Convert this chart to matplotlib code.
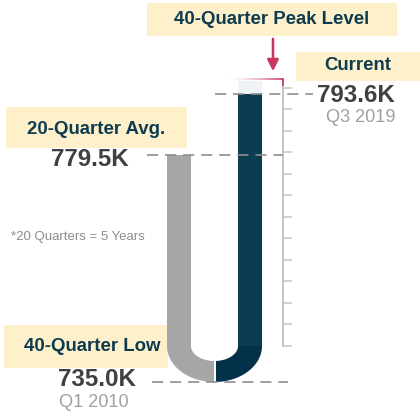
"""
U-shaped gauge: current level vs 20-quarter average and 40-quarter low/peak.
"""
import numpy as np
import matplotlib.pyplot as plt
from matplotlib.patches import Rectangle, Polygon
from matplotlib.collections import LineCollection

plt.rcParams['font.family'] = ['Liberation Sans', 'DejaVu Sans']
plt.rcParams['lines.scale_dashes'] = False

# values in thousands
avg_20q = 779.5
current = 793.6
low_40q = 735.0
peak_40q = 796.6
current_period = 'Q3 2019'
low_period = 'Q1 2010'
box_labels = ['40-Quarter Peak Level', 'Current', '20-Quarter Avg.', '40-Quarter Low']
note = '*20 Quarters = 5 Years'
tick_values = np.arange(735, 800, 5)

W, H = 420, 417
PX = 4.3                      # pixels per 1K
ytop = current + 94 / PX
ybot = ytop - H / PX

def vy(py):
    # pixel row -> value
    return ytop - py / PX

teal = '#0B3D50'
teal_dark = '#04314A'
gray_bar = '#A6A6A6'
pale = '#EEF3F6'
box_col = '#FEF0CA'
label_col = '#0E3B4E'
value_col = '#404040'
period_col = '#A0A0A0'
dash_col = '#8E8E8E'
pink = '#C8375E'

fig = plt.figure(figsize=(4.2, 4.17), dpi=100)
ax = fig.add_axes([0, 0, 1, 1])
ax.set_xlim(0, W)
ax.set_ylim(ybot, ytop)
ax.axis('off')

x_avg, x_cur, bw = 179, 250, 24
cx = (x_avg + x_cur) / 2

# straight legs of the U
ax.bar(x_avg, avg_20q - low_40q, bottom=low_40q, width=bw, color=gray_bar, zorder=2)
ax.bar(x_cur, current - low_40q, bottom=low_40q, width=bw, color=teal, zorder=2)
ax.bar(x_cur, peak_40q - current, bottom=current, width=bw, color=pale, zorder=2)

# bottom bend of the U
rx_o, rx_i = cx - (x_avg - bw / 2), cx - (x_avg + bw / 2)
ry_o, ry_i = 36 / PX, 15 / PX
for a0, a1, col in [(180, 270, gray_bar), (270, 360, teal_dark)]:
    t = np.radians(np.linspace(a0, a1, 60))
    outer = np.column_stack([cx + rx_o * np.cos(t), low_40q + ry_o * np.sin(t)])
    inner = np.column_stack([cx + rx_i * np.cos(t[::-1]), low_40q + ry_i * np.sin(t[::-1])])
    ax.add_patch(Polygon(np.vstack([outer, inner]), closed=True, color=col, lw=0, zorder=2))
ax.plot([cx, cx], [low_40q - ry_o - 0.5, low_40q - ry_i + 0.2], color='white', lw=1.4, zorder=3)
u_bottom = low_40q - ry_o

# scale on the right
x_axis = 283
ax.plot([x_axis, x_axis], [low_40q, peak_40q], color='#C4C4C4', lw=1.4, zorder=2)
for v in tick_values:
    ax.plot([x_axis, x_axis + 8], [v, v], color='#C4C4C4', lw=1.1, zorder=2)

# peak line, fading in from the left
xs = np.linspace(227, x_axis, 30)
segs = [[(xs[i], peak_40q + 0.5), (xs[i + 1], peak_40q + 0.5)] for i in range(len(xs) - 1)]
alphas = np.linspace(0.0, 1.0, len(segs)) ** 1.5
cols = [(0.78, 0.22, 0.37, a) for a in alphas]
ax.add_collection(LineCollection(segs, colors=cols, linewidths=1.2, zorder=4))
ax.plot([x_axis, x_axis], [peak_40q + 0.5, peak_40q - 1.0], color=pink, lw=1.2, zorder=4)

# arrow from the peak label
ax.annotate('', xy=(273, vy(74)), xytext=(273, vy(36)),
            arrowprops=dict(arrowstyle='-|>', color=pink, lw=1.8, mutation_scale=17), zorder=5)

# dashed reference lines
dash = (0, (8, 5))
ax.plot([215, 313], [current, current], color=dash_col, lw=1.2, ls=dash, zorder=4)
ax.plot([147, x_axis], [avg_20q, avg_20q], color=dash_col, lw=1.2, ls=dash, zorder=4)
ax.plot([152, 288], [u_bottom, u_bottom], color=dash_col, lw=1.2, ls=dash, zorder=4)

# label boxes (pixel layout)
def box(x0, x1, y0, y1):
    ax.add_patch(Rectangle((x0, vy(y1)), x1 - x0, vy(y0) - vy(y1), color=box_col, lw=0, zorder=1))

box(147, 397, 3, 36)
box(296, 420, 52, 81)
box(6, 187, 107, 148)
box(4, 168, 325, 368)

bold = dict(fontweight='bold', color=label_col, fontsize=13.4, ha='center', va='center', zorder=6)
ax.text(272, vy(20), box_labels[0], **bold)
ax.text(358, vy(66), box_labels[1], **bold)
ax.text(96, vy(129), box_labels[2], **bold)
ax.text(92, vy(347), box_labels[3], **bold)

val = dict(fontweight='bold', color=value_col, fontsize=17.4, va='center', zorder=6)
ax.text(395, vy(95), f'{current:.1f}K', ha='right', **val)
ax.text(90, vy(160), f'{avg_20q:.1f}K', ha='center', **val)
ax.text(97, vy(380), f'{low_40q:.1f}K', ha='center', **val)

per = dict(color=period_col, fontsize=13.1, va='center', zorder=6)
ax.text(395, vy(118), current_period, ha='right', **per)
ax.text(94, vy(403), low_period, ha='center', **per)

ax.text(78, vy(237), note, color='#8C8C8C', fontsize=9.5, ha='center', va='center')

fig.savefig('out.png', dpi=100)
